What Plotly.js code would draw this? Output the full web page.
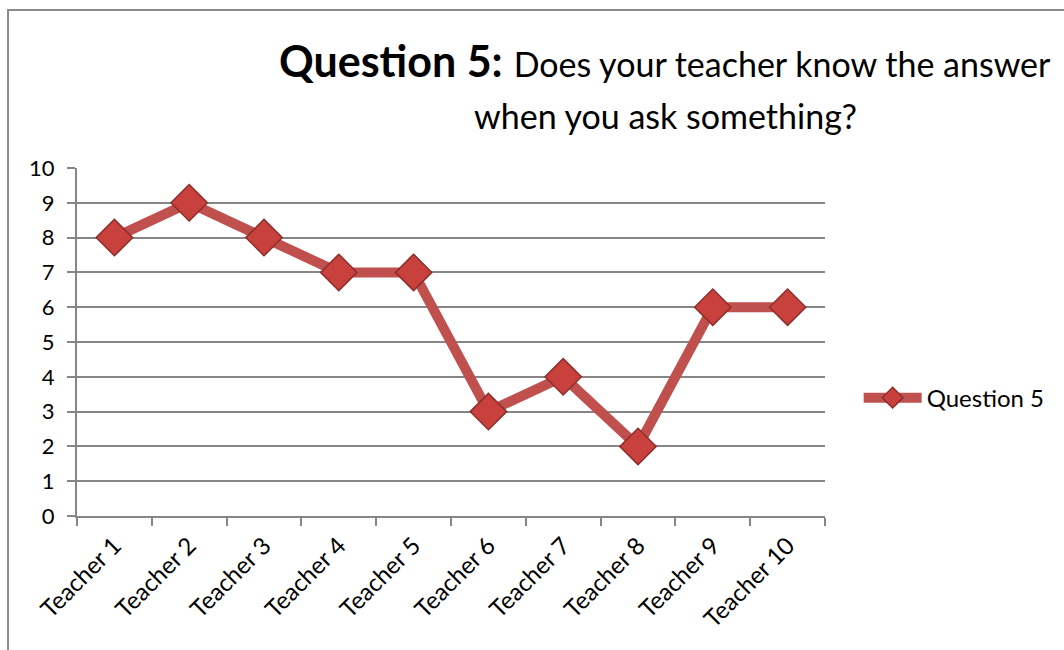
<!DOCTYPE html>
<html><head><meta charset="utf-8">
<script src="https://cdn.plot.ly/plotly-3.0.1.min.js"></script>
<style>html,body{margin:0;padding:0;background:#fff;}#c{width:1064px;height:650px;}</style>
</head><body><div id="c"></div>
<script>
const categories = ["Teacher 1","Teacher 2","Teacher 3","Teacher 4","Teacher 5","Teacher 6","Teacher 7","Teacher 8","Teacher 9","Teacher 10"];
const values = [8, 9, 8, 7, 7, 3, 4, 2, 6, 6];
const seriesName = "Question 5";
const yTicks = [0,1,2,3,4,5,6,7,8,9,10];
const titleBold = "Question 5:";
const titleLine1 = "Does your teacher know the answer";
const titleLine2 = "when you ask something?";

const font = "Lato, 'Open Sans', sans-serif";
const trace = {
  x: categories, y: values, type: "scatter", mode: "lines+markers", name: seriesName,
  line: {color: "#C0504D", width: 10},
  marker: {symbol: "diamond", size: 28, color: "#C9413D", line: {color: "#8E2E2B", width: 1.5}}
};
const layout = {
  width: 1064, height: 650,
  margin: {l: 77, r: 239, t: 168, b: 134},
  paper_bgcolor: "#fff", plot_bgcolor: "#fff",
  font: {family: font, color: "#000", size: 22},
  xaxis: {
    type: "category", range: [-0.5, 9.5], tickangle: -45, tickson: "boundaries",
    ticks: "outside", ticklen: 8, tickcolor: "#868686", tickwidth: 2,
    showline: true, linecolor: "#868686", linewidth: 2, showgrid: false, ticklabelstandoff: 4,
    tickfont: {size: 24, family: font}, fixedrange: true
  },
  yaxis: {
    range: [0, 10], tickvals: yTicks, ticks: "outside", ticklen: 8, tickcolor: "#868686", tickwidth: 2,
    showline: true, linecolor: "#868686", linewidth: 2, ticklabelstandoff: 8,
    showgrid: true, gridcolor: "#868686", gridwidth: 2, zeroline: false,
    tickfont: {size: 22, family: font}, fixedrange: true
  },
  showlegend: true,
  legend: {x: 1.045, y: 0.339, xanchor: "left", yanchor: "middle", itemwidth: 58, font: {size: 24, family: font}, bgcolor: "rgba(0,0,0,0)"},
  annotations: [
    {xref: "paper", yref: "paper", x: 0.786, y: 1.31, xanchor: "center", yanchor: "middle", showarrow: false,
     text: "<b>" + titleBold + "</b> <span style='font-size:34px'>" + titleLine1 + "</span>", font: {size: 43, family: font, color: "#000"}},
    {xref: "paper", yref: "paper", x: 0.787, y: 1.152, xanchor: "center", yanchor: "middle", showarrow: false,
     text: titleLine2, font: {size: 34, family: font, color: "#000"}}
  ],
  shapes: [{type: "rect", xref: "paper", yref: "paper", x0: -0.0922, x1: 2, y0: -2, y1: 1.454, line: {color: "#8a8a8a", width: 2}, layer: "below"}]
};
Plotly.newPlot("c", [trace], layout, {displayModeBar: false, staticPlot: true});
</script></body></html>
